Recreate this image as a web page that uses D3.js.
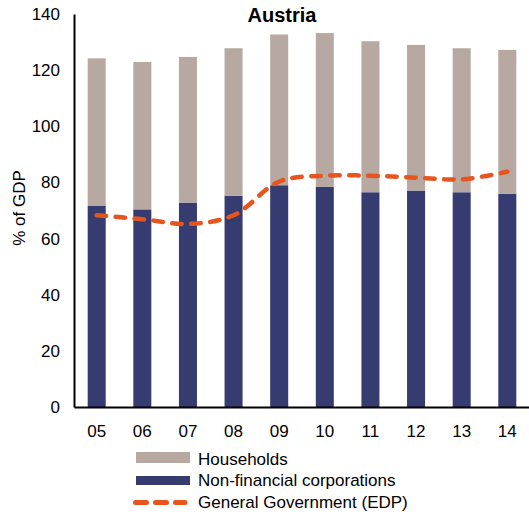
<!DOCTYPE html>
<html>
<head>
<meta charset="utf-8">
<script src="https://cdn.jsdelivr.net/npm/d3@7"></script>
<style>
  body { margin: 0; background: #fff; }
  text { font-family: "Liberation Sans", Arial, sans-serif; fill: #000; }
</style>
</head>
<body>
<div id="chart"></div>
<script>
const years = ["05", "06", "07", "08", "09", "10", "11", "12", "13", "14"];
const nfc = [71.6, 70.4, 72.8, 75.3, 79.0, 78.4, 76.5, 77.1, 76.5, 76.0];
const households = [52.6, 52.5, 51.9, 52.5, 53.7, 54.8, 53.8, 51.9, 51.3, 51.2];
const government = [68.3, 66.9, 65.2, 68.3, 80.3, 82.4, 82.4, 81.7, 81.1, 83.8];
const yTicks = [0, 20, 40, 60, 80, 100, 120, 140];

const width = 529, height = 515;
const margin = { top: 14, right: -1, bottom: 108, left: 74 };

const svg = d3.select("#chart")
    .append("svg")
    .attr("width", width)
    .attr("height", height);

const x = d3.scaleBand()
    .domain(years)
    .range([margin.left, width - margin.right])
    .paddingInner(0.605)
    .paddingOuter(0.3);

const y = d3.scaleLinear()
    .domain([0, 140])
    .range([height - margin.bottom, margin.top]);

// stacked bars
const rows = years.map((yr, i) => ({ year: yr, nfc: nfc[i], households: households[i] }));
const stack = d3.stack().keys(["nfc", "households"])(rows);
const colors = { nfc: "#363b70", households: "#b7a9a1" };
const orange = "#e8541e";

svg.append("g")
    .selectAll("g")
    .data(stack)
    .join("g")
    .attr("fill", d => colors[d.key])
    .selectAll("rect")
    .data(d => d)
    .join("rect")
    .attr("x", d => x(d.data.year))
    .attr("y", d => y(d[1]))
    .attr("width", x.bandwidth())
    .attr("height", d => y(d[0]) - y(d[1]));

// general government line
const line = d3.line()
    .x((d, i) => x(years[i]) + x.bandwidth() / 2)
    .y(d => y(d))
    .curve(d3.curveCatmullRom.alpha(0.5));

svg.append("path")
    .datum(government)
    .attr("d", line)
    .attr("fill", "none")
    .attr("stroke", orange)
    .attr("stroke-width", 4.5)
    .attr("stroke-linecap", "round")
    .attr("stroke-dasharray", "9.5,9.5");

// axes
const yAxis = d3.axisLeft(y).tickValues(yTicks).tickSize(0).tickPadding(14);
const gy = svg.append("g")
    .attr("transform", `translate(${margin.left},0)`)
    .call(yAxis);
gy.select(".domain").attr("stroke", "#000").attr("stroke-width", 2);
gy.selectAll("text").attr("font-size", "17px")
    .style("font-family", "Liberation Sans, Arial, sans-serif");

const xAxis = d3.axisBottom(x).tickSize(0).tickPadding(18);
const gx = svg.append("g")
    .attr("transform", `translate(0,${height - margin.bottom})`)
    .call(xAxis);
gx.select(".domain").attr("stroke", "#000").attr("stroke-width", 2);
gx.selectAll("text").attr("font-size", "17px")
    .style("font-family", "Liberation Sans, Arial, sans-serif");

// title
svg.append("text")
    .attr("x", 282)
    .attr("y", 22)
    .attr("text-anchor", "middle")
    .attr("font-size", "20px")
    .attr("font-weight", "bold")
    .text("Austria");

// y label
svg.append("text")
    .attr("transform", "translate(25,208) rotate(-90)")
    .attr("text-anchor", "middle")
    .attr("font-size", "17px")
    .text("% of GDP");

// legend
const legend = svg.append("g");
legend.append("rect").attr("x", 136).attr("y", 452).attr("width", 54).attr("height", 11).attr("fill", colors.households);
legend.append("rect").attr("x", 136).attr("y", 476).attr("width", 54).attr("height", 9).attr("fill", colors.nfc);
legend.append("line")
    .attr("x1", 135.5).attr("x2", 185).attr("y1", 502.5).attr("y2", 502.5)
    .attr("stroke", orange).attr("stroke-width", 5)
    .attr("stroke-linecap", "round").attr("stroke-dasharray", "11,9");

const legendText = ["Households", "Non-financial corporations", "General Government (EDP)"];
legend.selectAll("text.lbl")
    .data(legendText)
    .join("text")
    .attr("class", "lbl")
    .attr("x", 198)
    .attr("y", (d, i) => 464.5 + i * 21.5)
    .attr("font-size", "17px")
    .text(d => d);
</script>
</body>
</html>
